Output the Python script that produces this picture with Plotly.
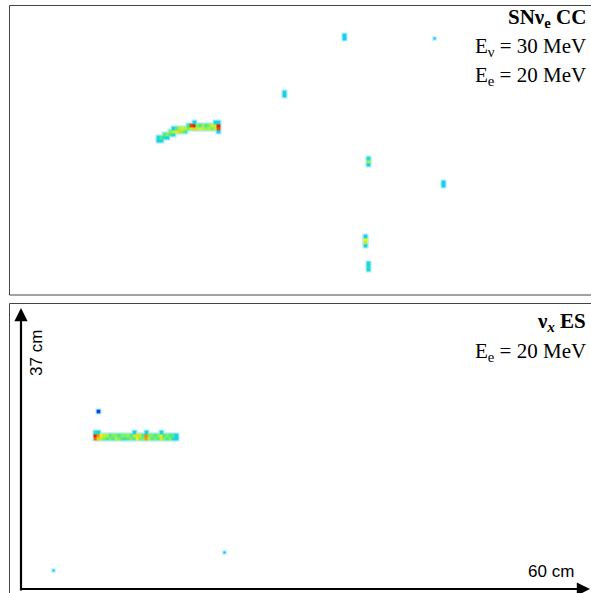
import plotly.graph_objects as go

# ---- data: hits (wire index, time tick, normalised charge) ----
# top panel: SN nu_e CC event
top_wire = [49, 49, 50, 50, 51, 51, 52, 52, 53, 53, 54, 54, 54, 55, 55, 56, 56, 57, 57, 58, 58,
            59, 59, 60, 60, 61, 61, 61, 62, 62, 63, 63, 64, 64, 65, 65, 66, 66, 67, 67,
            68, 68, 68, 69, 69, 69, 69,
            111, 111, 91, 91, 119, 119, 119, 144, 144, 118, 118, 118, 118, 119, 119, 119]
top_tick = [51, 52, 51, 52, 52, 53, 52, 53, 53, 54, 53, 54, 55, 54, 55, 54, 55, 54, 55, 54, 55,
            55, 56, 55, 56, 55, 56, 57, 55, 56, 55, 56, 55, 56, 55, 56, 55, 56, 55, 56,
            55, 56, 57, 54, 55, 56, 57,
            85, 86, 66, 67, 43, 44, 45, 36, 37, 16, 17, 18, 19, 8, 9, 10]
top_charge = [.38, .42, .42, .50, .45, .50, .40, .55, .50, .55, .45, .60, .38, .62, .50, .70, .58, .55, .62, .50, .60,
              .55, .48, .60, .90, .70, .95, .38, .60, .55, .62, .50, .60, .58, .58, .50, .60, .55, .55, .62,
              .60, .60, .40, .38, .90, .95, .40,
              .38, .38, .38, .40, .40, .58, .45, .38, .38, .40, .60, .65, .40, .42, .45, .40]
top_small_wire = [141]
top_small_tick = [85]
top_small_charge = [.35]

# bottom panel: nu_x ES event
bot_wire = [28, 28, 28, 29, 29, 29, 30, 30, 31, 31, 32, 32, 33, 33, 34, 34, 35, 35, 36, 36, 37, 37,
            38, 38, 39, 39, 40, 40, 41, 41, 41, 42, 42, 43, 43, 44, 44, 45, 45, 45, 46, 46,
            47, 47, 48, 48, 49, 49, 50, 50, 50, 51, 51, 52, 52, 53, 53, 54, 54, 55, 55,
            29]
bot_tick = [51, 52, 53, 51, 52, 53, 51, 52, 51, 52, 51, 52, 51, 52, 51, 52, 51, 52, 51, 52, 51, 52,
            51, 52, 51, 52, 51, 52, 51, 52, 53, 51, 52, 51, 52, 51, 52, 51, 52, 53, 51, 52,
            51, 52, 51, 52, 51, 52, 51, 52, 53, 51, 52, 51, 52, 51, 52, 51, 52, 51, 52,
            60]
bot_charge = [.85, .95, .45, .70, .80, .40, .60, .65, .55, .60, .50, .60, .55, .50, .50, .55, .60, .55, .55, .50, .50, .55,
              .48, .55, .50, .58, .55, .50, .50, .60, .40, .65, .68, .55, .60, .55, .50, .78, .82, .40, .60, .55,
              .50, .55, .55, .50, .50, .55, .62, .65, .40, .55, .50, .50, .55, .55, .50, .45, .50, .38, .40,
              .12]
bot_small_wire = [71, 14]
bot_small_tick = [13, 7]
bot_small_charge = [.35, .35]

colorscale = [[0.0, '#0000c0'], [0.15, '#0060e0'], [0.35, '#10c8f8'], [0.45, '#20e0c0'],
              [0.55, '#80f060'], [0.65, '#e8f020'], [0.8, '#ff9000'], [1.0, '#e00000']]

W, H = 591, 593
fig = go.Figure()


def add_hits(wires, ticks, charges, xa, ya, size):
    fig.add_trace(go.Scatter(x=wires, y=ticks, mode='markers', xaxis=xa, yaxis=ya,
                             marker=dict(symbol='square', size=size + 2.4, color='#bfeeff',
                                         line=dict(width=0)),
                             hoverinfo='skip', showlegend=False))
    fig.add_trace(go.Scatter(x=wires, y=ticks, mode='markers', xaxis=xa, yaxis=ya,
                             marker=dict(symbol='square', size=size, color=charges,
                                         colorscale=colorscale, cmin=0, cmax=1,
                                         line=dict(width=0)),
                             showlegend=False))


add_hits(top_wire, top_tick, top_charge, 'x', 'y', 3.8)
add_hits(top_small_wire, top_small_tick, top_small_charge, 'x', 'y', 2.2)
add_hits(bot_wire, bot_tick, bot_charge, 'x2', 'y2', 3.8)
add_hits(bot_small_wire, bot_small_tick, bot_small_charge, 'x2', 'y2', 2.2)


def px_x(p):
    return p / W


def px_y(p):
    return (H - p) / H


ax_common = dict(visible=False, showgrid=False, zeroline=False, fixedrange=True)
xr = [-0.5, 581 / 3 - 0.5]
yr = [-0.5, 290 / 3 - 0.5]
fig.update_layout(
    width=W, height=H, margin=dict(l=0, r=0, t=0, b=0),
    paper_bgcolor='white', plot_bgcolor='white',
    xaxis=dict(domain=[px_x(10), 1], range=xr, **ax_common),
    yaxis=dict(domain=[px_y(295), px_y(5)], range=yr, **ax_common),
    xaxis2=dict(domain=[px_x(10), 1], range=xr, anchor='y2', **ax_common),
    yaxis2=dict(domain=[0, px_y(303)], range=yr, anchor='x2', **ax_common),
)

# panel frames
fig.add_shape(type='rect', xref='paper', yref='paper', x0=px_x(9.5), x1=1.05,
              y0=px_y(295), y1=px_y(5.5), line=dict(color='#444444', width=1))
fig.add_shape(type='rect', xref='paper', yref='paper', x0=px_x(9.5), x1=1.05,
              y0=-0.05, y1=px_y(303.5), line=dict(color='#444444', width=1))

# axis arrows in bottom panel
fig.add_annotation(xref='paper', yref='paper', x=px_x(21), y=px_y(308), ax=0, ay=284,
                   text='', showarrow=True, arrowhead=2, arrowsize=1.2, arrowwidth=2.2,
                   arrowcolor='black')
fig.add_annotation(xref='paper', yref='paper', x=px_x(590), y=px_y(589), ax=-570, ay=0,
                   text='', showarrow=True, arrowhead=2, arrowsize=1.2, arrowwidth=2.2,
                   arrowcolor='black')
fig.add_annotation(xref='paper', yref='paper', x=px_x(36), y=px_y(353), text='37 cm',
                   textangle=-90, showarrow=False, xanchor='center', yanchor='middle',
                   font=dict(family='Liberation Sans, Arial', size=17, color='black'))
fig.add_annotation(xref='paper', yref='paper', x=px_x(576), y=px_y(571), text='60 cm',
                   xanchor='right', yanchor='middle', showarrow=False,
                   font=dict(family='Liberation Sans, Arial', size=17, color='black'))

serif = dict(family='Liberation Serif, Times New Roman', size=21, color='black')
labels = [('<b>SNν<sub>e</sub> CC</b>', 18), ('E<sub>ν</sub> = 30 MeV', 47),
          ('E<sub>e</sub> = 20 MeV', 76), ('<b>ν<sub><i>x</i></sub> ES</b>', 322),
          ('E<sub>e</sub> = 20 MeV', 352)]
for txt, yc in labels:
    fig.add_annotation(xref='paper', yref='paper', x=px_x(588), y=px_y(yc), text=txt,
                       xanchor='right', yanchor='middle', showarrow=False, font=serif)

fig.write_html('out.html', config={'displayModeBar': False},
               post_script="document.body.style.margin='0px';")
